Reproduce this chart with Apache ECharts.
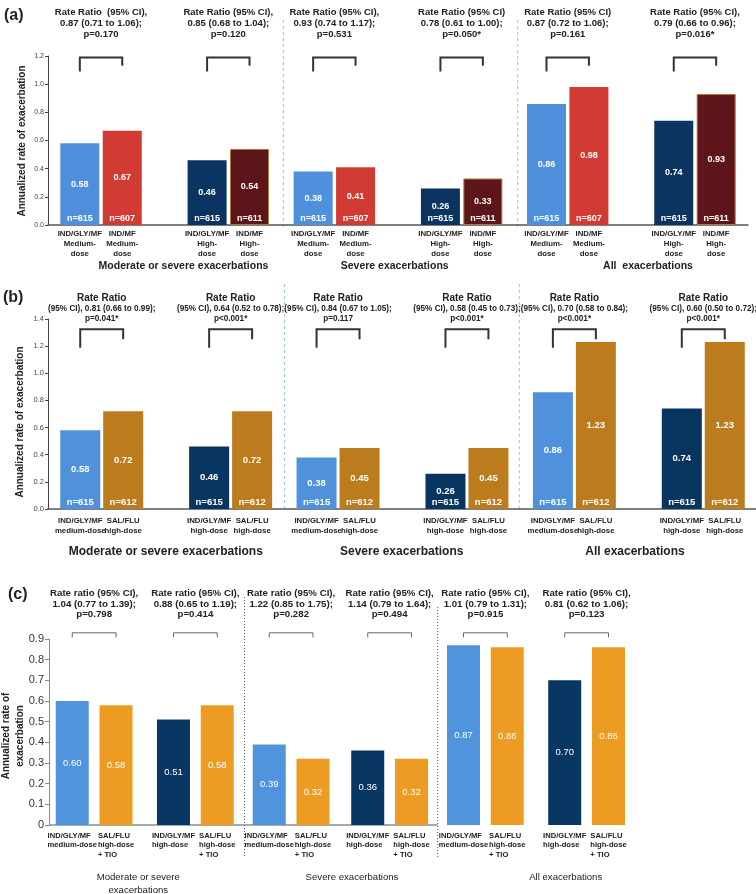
<!DOCTYPE html>
<html><head><meta charset="utf-8">
<script src="https://cdn.jsdelivr.net/npm/echarts@6/dist/echarts.min.js"></script>
<style>html,body{margin:0;padding:0;background:#fff}#c{width:756px;height:894px}</style>
</head><body><div id="c"></div>
<script>
const FONT = '"Liberation Sans", Arial, sans-serif';

// ---------------- DATA ----------------
// Panel (a)
const labelsA = [
  'IND/GLY/MF\nMedium-\ndose','IND/MF\nMedium-\ndose','IND/GLY/MF\nHigh-\ndose','IND/MF\nHigh-\ndose',
  'IND/GLY/MF\nMedium-\ndose','IND/MF\nMedium-\ndose','IND/GLY/MF\nHigh-\ndose','IND/MF\nHigh-\ndose',
  'IND/GLY/MF\nMedium-\ndose','IND/MF\nMedium-\ndose','IND/GLY/MF\nHigh-\ndose','IND/MF\nHigh-\ndose'];
const treatA = [0,1,2,3, 0,1,2,3, 0,1,2,3];
const valuesA = [0.58,0.67,0.46,0.54, 0.38,0.41,0.26,0.33, 0.86,0.98,0.74,0.93];
const nA = [615,607,615,611, 615,607,615,611, 615,607,615,611];
const ratiosA = [
  'Rate Ratio  (95% CI),\n0.87 (0.71 to 1.06);\np=0.170',
  'Rate Ratio (95% CI),\n0.85 (0.68 to 1.04);\np=0.120',
  'Rate Ratio (95% CI),\n0.93 (0.74 to 1.17);\np=0.531',
  'Rate Ratio (95% CI)\n0.78 (0.61 to 1.00);\np=0.050*',
  'Rate Ratio (95% CI)\n0.87 (0.72 to 1.06);\np=0.161',
  'Rate Ratio (95% CI),\n0.79 (0.66 to 0.96);\np=0.016*'];
const groupsA = ['Moderate or severe exacerbations','Severe exacerbations','All  exacerbations'];

// Panel (b)
const labelsB = [
  'IND/GLY/MF\nmedium-dose','SAL/FLU\nhigh-dose','IND/GLY/MF\nhigh-dose','SAL/FLU\nhigh-dose',
  'IND/GLY/MF\nmedium-dose','SAL/FLU\nhigh-dose','IND/GLY/MF\nhigh-dose','SAL/FLU\nhigh-dose',
  'IND/GLY/MF\nmedium-dose','SAL/FLU\nhigh-dose','IND/GLY/MF\nhigh-dose','SAL/FLU\nhigh-dose'];
const treatB = [0,1,2,1, 0,1,2,1, 0,1,2,1];
const valuesB = [0.58,0.72,0.46,0.72, 0.38,0.45,0.26,0.45, 0.86,1.23,0.74,1.23];
const nB = [615,612,615,612, 615,612,615,612, 615,612,615,612];
const ratiosB = [
  ['Rate Ratio','(95% CI), 0.81 (0.66 to 0.99);','p=0.041*'],
  ['Rate Ratio','(95% CI), 0.64 (0.52 to 0.78);','p<0.001*'],
  ['Rate Ratio','(95% CI), 0.84 (0.67 to 1.05);','p=0.117'],
  ['Rate Ratio','(95% CI), 0.58 (0.45 to 0.73);','p<0.001*'],
  ['Rate Ratio','(95% CI), 0.70 (0.58 to 0.84);','p<0.001*'],
  ['Rate Ratio','(95% CI), 0.60 (0.50 to 0.72);','p<0.001*']];
const groupsB = ['Moderate or severe exacerbations','Severe exacerbations','All exacerbations'];

// Panel (c)
const labelsC = [
  'IND/GLY/MF\nmedium-dose','SAL/FLU\nhigh-dose\n+ TIO','IND/GLY/MF\nhigh-dose','SAL/FLU\nhigh-dose\n+ TIO',
  'IND/GLY/MF\nmedium-dose','SAL/FLU\nhigh-dose\n+ TIO','IND/GLY/MF\nhigh-dose','SAL/FLU\nhigh-dose\n+ TIO',
  'IND/GLY/MF\nmedium-dose','SAL/FLU\nhigh-dose\n+ TIO','IND/GLY/MF\nhigh-dose','SAL/FLU\nhigh-dose\n+ TIO'];
const treatC = [0,1,2,1, 0,1,2,1, 0,1,2,1];
const valuesC = [0.60,0.58,0.51,0.58, 0.39,0.32,0.36,0.32, 0.87,0.86,0.70,0.86];
const ratiosC = [
  'Rate ratio (95% CI),\n1.04 (0.77 to 1.39);\np=0.798',
  'Rate ratio (95% CI),\n0.88 (0.65 to 1.19);\np=0.414',
  'Rate ratio (95% CI),\n1.22 (0.85 to 1.75);\np=0.282',
  'Rate ratio (95% CI),\n1.14 (0.79 to 1.64);\np=0.494',
  'Rate ratio (95% CI),\n1.01 (0.79 to 1.31);\np=0.915',
  'Rate ratio (95% CI),\n0.81 (0.62 to 1.06);\np=0.123'];
const groupsC = ['Moderate or severe\nexacerbations','Severe exacerbations','All exacerbations'];

const yTitle = 'Annualized rate of exacerbation';

// ---------------- LAYOUT / STYLE ----------------
const panels = [
  { labels: labelsA, treat: treatA, values: valuesA, n: nA, ratios: ratiosA,
    palette: ['#4E90DB','#D13B34','#0B3560','#5D1519'],
    border: [null,null,null,'#a8793a'],
    slots: [1,3,7,9,12,14,18,20,23,25,29,31], total: 33,
    grid: {left: 48, top: 56, width: 700, height: 169},
    ymax: 1.2, yint: 0.2, yfont: 7, ycolor: '#444', yline: '#444',
    barWidth: 39, valFont: 9, valWeight: 'bold',
    xFont: 7.8, xLine: 10, xMargin: 4,
    br: {top: 1.19, l: 1.09, r: 1.13, w: 2, c: '#333'},
    hdr: {font: 9.5, lh: 11, gap: 18} },
  { labels: labelsB, treat: treatB, values: valuesB, n: nB, ratios: ratiosB,
    palette: ['#4F91DB','#BC7B1D','#08355F'],
    border: [null,null,null],
    slots: [1,3,7,9,12,14,18,20,23,25,29,31], total: 33,
    grid: {left: 48, top: 319, width: 709, height: 190},
    ymax: 1.4, yint: 0.2, yfont: 7.5, ycolor: '#444', yline: '#444',
    barWidth: 40, valFont: 9.5, valWeight: 'bold',
    xFont: 7.8, xLine: 10, xMargin: 7,
    br: {top: 1.324, l: 1.189, r: 1.25, w: 2, c: '#333'},
    hdr: {font: 8.2, lh: 10, gap: 6} },
  { labels: labelsC, treat: treatC, values: valuesC, n: null, ratios: ratiosC,
    palette: ['#5094DD','#EC9C22','#083764'],
    border: [null,null,null],
    slots: [8,24,45,61,80,96,116,132,151,167,188,204], total: 212,
    grid: {left: 49, top: 639, width: 580, height: 186},
    ymax: 0.9, yint: 0.1, yfont: 11, ycolor: '#333', yline: '#888',
    barWidth: 33, valFont: 9.5, valWeight: 'normal',
    xFont: 7.6, xLine: 9.5, xMargin: 6,
    br: {top: 0.93, l: 0.908, r: 0.908, w: 1, c: '#666'},
    hdr: {font: 9.7, lh: 10.5, gap: 13} }
];

const grids = [], xAxes = [], yAxes = [], series = [];

panels.forEach((p, pi) => {
  grids.push(Object.assign({containLabel: false, outerBoundsMode: 'none'}, p.grid));
  const cats = new Array(p.total).fill('');
  const vals = new Array(p.total).fill('-');
  const nvals = new Array(p.total).fill('-');
  p.labels.forEach((l, i) => { cats[p.slots[i]] = l; });
  p.values.forEach((v, i) => {
    const t = p.treat[i];
    const st = {color: p.palette[t]};
    if (p.border[t]) { st.borderColor = p.border[t]; st.borderWidth = 1; }
    vals[p.slots[i]] = {value: v, itemStyle: st};
    if (p.n) nvals[p.slots[i]] = {value: v, label: {formatter: 'n=' + p.n[i]}};
  });
  const isC = pi === 2;
  xAxes.push({
    type: 'category', gridIndex: pi, data: cats,
    axisTick: {show: false},
    axisLine: {show: !isC, lineStyle: {color: '#555', width: 1.5}},
    axisLabel: {
      interval: 0, color: '#222', fontFamily: FONT, fontSize: p.xFont, fontWeight: 'bold',
      lineHeight: p.xLine, margin: p.xMargin,
      formatter: isC ? (v => v ? v.split('\n').map(s => '{l|' + s + '}').join('\n') : '') : undefined,
      rich: isC ? {l: {align: 'left', fontFamily: FONT, fontSize: p.xFont, fontWeight: 'bold', color: '#222', lineHeight: p.xLine}} : undefined
    }
  });
  yAxes.push({
    type: 'value', gridIndex: pi, min: 0, max: p.ymax, interval: p.yint,
    splitLine: {show: false},
    axisLine: {show: true, lineStyle: {color: p.yline, width: 1}},
    axisTick: {show: true, length: isC ? 4 : 3, lineStyle: {color: p.yline}},
    axisLabel: {fontFamily: FONT, fontSize: p.yfont, color: p.ycolor, margin: isC ? 5 : 4,
      formatter: v => (isC && v === 0) ? '0' : v.toFixed(1)}
  });
  series.push({
    type: 'bar', xAxisIndex: pi, yAxisIndex: pi, data: vals, barWidth: p.barWidth,
    silent: true,
    label: {show: true, position: 'inside', color: '#fff', fontFamily: FONT,
      fontSize: p.valFont, fontWeight: p.valWeight, formatter: q => q.value.toFixed(2)}
  });
  if (p.n) {
    series.push({
      type: 'bar', xAxisIndex: pi, yAxisIndex: pi, data: nvals, barWidth: p.barWidth,
      barGap: '-100%', silent: true, z: 3,
      itemStyle: {color: 'rgba(0,0,0,0)'},
      label: {show: true, position: 'insideBottom', distance: 2, color: '#fff',
        fontFamily: FONT, fontSize: p.valFont, fontWeight: 'bold'}
    });
  }
  // brackets + rate ratio text
  const bdata = [];
  for (let k = 0; k < 6; k++) bdata.push([p.slots[2*k], p.slots[2*k+1], p.br.top, p.br.l, p.br.r]);
  series.push({
    type: 'custom', xAxisIndex: pi, yAxisIndex: pi, silent: true, clip: false, z: 5,
    encode: {x: [0, 1], y: [2, 3, 4]},
    data: bdata,
    renderItem: (params, api) => {
      const a = api.coord([api.value(0), api.value(2)]);
      const b = api.coord([api.value(1), api.value(2)]);
      const yl = api.coord([api.value(0), api.value(3)])[1];
      const yr = api.coord([api.value(1), api.value(4)])[1];
      const cx = (a[0] + b[0]) / 2, ty = a[1] - p.hdr.gap;
      let textStyle;
      if (pi === 1) {
        const r = p.ratios[params.dataIndex];
        textStyle = {
          text: '{t|' + r[0] + '}\n{s|' + r[1] + '}\n{s|' + r[2] + '}',
          rich: {
            t: {fontFamily: FONT, fontSize: 10, fontWeight: 'bold', fill: '#222', lineHeight: 11},
            s: {fontFamily: FONT, fontSize: p.hdr.font, fontWeight: 'bold', fill: '#222', lineHeight: p.hdr.lh}
          }
        };
      } else {
        textStyle = {text: p.ratios[params.dataIndex], fontFamily: FONT, fontSize: p.hdr.font,
          fontWeight: 'bold', lineHeight: p.hdr.lh};
      }
      Object.assign(textStyle, {fill: '#222', align: 'center', verticalAlign: 'bottom',
        textAlign: 'center', textVerticalAlign: 'bottom'});
      return {type: 'group', children: [
        {type: 'polyline', shape: {points: [[a[0], yl], [a[0], a[1]], [b[0], b[1]], [b[0], yr]]},
          style: {stroke: p.br.c, lineWidth: p.br.w, fill: null}},
        {type: 'text', x: cx, y: ty, style: textStyle}
      ]};
    }
  });
});

// decorations
function txt(x, y, text, font, opts) {
  return Object.assign({type: 'text', x: x, y: y, silent: true,
    style: Object.assign({text: text, font: font, fill: '#222', align: 'center', verticalAlign: 'middle',
      textAlign: 'center', textVerticalAlign: 'middle'}, (opts && opts.style) || {})},
    (opts && opts.el) || {});
}
function vline(x, y1, y2, color, dash) {
  return {type: 'line', silent: true, shape: {x1: x, y1: y1, x2: x, y2: y2},
    style: {stroke: color, lineWidth: 1, lineDash: dash}};
}
const gC = panels[2].grid;
const graphic = [
  txt(4, 16, '(a)', 'bold 16px ' + FONT, {style: {align: 'left', textAlign: 'left'}}),
  txt(3, 298, '(b)', 'bold 16px ' + FONT, {style: {align: 'left', textAlign: 'left'}}),
  txt(8, 595, '(c)', 'bold 16px ' + FONT, {style: {align: 'left', textAlign: 'left'}}),
  txt(22.5, 141, yTitle, 'bold 10px ' + FONT, {el: {rotation: Math.PI / 2}}),
  txt(20, 422, yTitle, 'bold 10px ' + FONT, {el: {rotation: Math.PI / 2}}),
  txt(13, 736, 'Annualized rate of\nexacerbation', 'bold 10px ' + FONT, {el: {rotation: Math.PI / 2}, style: {lineHeight: 14.3}}),
  txt(183.5, 266, groupsA[0], 'bold 10.5px ' + FONT),
  txt(394.7, 266, groupsA[1], 'bold 10.5px ' + FONT),
  txt(648, 266, groupsA[2], 'bold 10.5px ' + FONT),
  txt(165.8, 551.7, groupsB[0], 'bold 12px ' + FONT),
  txt(401.7, 551.7, groupsB[1], 'bold 12px ' + FONT),
  txt(635, 551.7, groupsB[2], 'bold 12px ' + FONT),
  txt(138.3, 883.6, groupsC[0], '9.6px ' + FONT, {style: {lineHeight: 12.7}}),
  txt(352, 877.3, groupsC[1], '9.6px ' + FONT),
  txt(565.7, 877.3, groupsC[2], '9.6px ' + FONT),
  vline(283.3, 20, 227, '#9dc3e6', [3, 3]),
  vline(517.7, 20, 227, '#9dc3e6', [3, 3]),
  vline(284.5, 284, 510, '#9dc3e6', [3, 3]),
  vline(519.3, 284, 510, '#9dc3e6', [3, 3]),
  vline(244.5, 597, 858, '#555', [1, 2]),
  vline(437.7, 607, 858, '#555', [1, 2]),
  {type: 'line', silent: true, shape: {x1: gC.left, y1: gC.top + gC.height, x2: 437.7, y2: gC.top + gC.height},
    style: {stroke: '#555', lineWidth: 1}}
];

const chart = echarts.init(document.getElementById('c'), null, {renderer: 'canvas'});
chart.setOption({
  animation: false,
  textStyle: {fontFamily: FONT},
  grid: grids, xAxis: xAxes, yAxis: yAxes, series: series, graphic: graphic
});
</script></body></html>
